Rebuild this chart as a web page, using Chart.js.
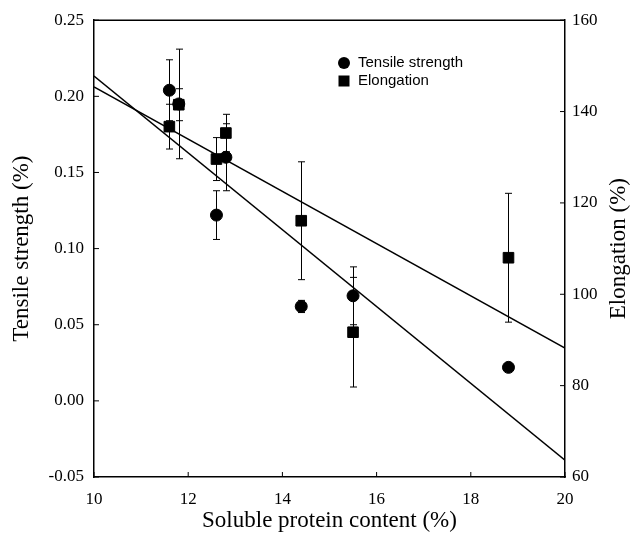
<!DOCTYPE html>
<html>
<head>
<meta charset="utf-8">
<script src="https://cdn.jsdelivr.net/npm/chart.js@4.4.1/dist/chart.umd.min.js"></script>
<style>
  html, body { margin: 0; padding: 0; background: #fff; }
  #wrap { width: 633px; height: 546px; position: relative; }
</style>
</head>
<body>
<div id="wrap"><canvas id="myChart"></canvas></div>
<script>
// values
const protein = [11.6, 11.8, 12.6, 12.8, 14.4, 15.5, 18.8];
const tensile = [0.204, 0.195, 0.122, 0.160, 0.062, 0.069, 0.022];
const tensileErr = [0.020, 0.036, 0.016, 0.022, 0.004, 0.019, 0];
const elongation = [136.7, 141.5, 129.6, 135.3, 116.1, 91.7, 108.0];
const elongationErr = [4.9, 3.5, 4.7, 4.1, 12.9, 12.0, 14.1];

// regression lines (end points at x = 10 and x = 20)
const fitX = [10, 20];
const tensileFit = [0.2133, -0.0389];
const elongationFit = [145.4, 88.2];

const seriesNames = ['Tensile strength', 'Elongation'];
const xTitle = 'Soluble protein content (%)';
const yTitle = 'Tensile strength (%)';
const y2Title = 'Elongation (%)';

const serif = '"Liberation Serif", "Times New Roman", serif';
const sans = '"Liberation Sans", Arial, sans-serif';

function pts(xs, ys) {
    return xs.map((x, i) => ({ x: x, y: ys[i] }));
}

// error bars, inside ticks, top frame, axis titles and legend
const extras = {
    id: 'extras',
    beforeDatasetsDraw(chart) {
        const ctx = chart.ctx;
        const x = chart.scales.x;
        ctx.save();
        ctx.strokeStyle = '#000';
        ctx.lineWidth = 1;
        chart.data.datasets.forEach((ds) => {
            if (!ds.errors) return;
            const sc = chart.scales[ds.yAxisID];
            ds.data.forEach((p, i) => {
                const e = ds.errors[i];
                if (!e) return;
                const px = Math.round(x.getPixelForValue(p.x)) + 0.5;
                const top = sc.getPixelForValue(p.y + e);
                const bot = sc.getPixelForValue(p.y - e);
                ctx.beginPath();
                ctx.moveTo(px, top); ctx.lineTo(px, bot);
                ctx.moveTo(px - 3.5, top); ctx.lineTo(px + 3.5, top);
                ctx.moveTo(px - 3.5, bot); ctx.lineTo(px + 3.5, bot);
                ctx.stroke();
            });
        });
        ctx.restore();
    },
    afterDraw(chart) {
        const ctx = chart.ctx;
        const a = chart.chartArea;
        const { x, y, y2 } = chart.scales;
        ctx.save();
        ctx.strokeStyle = '#000';
        ctx.lineWidth = 1.5;
        ctx.beginPath();
        ctx.moveTo(a.left, a.top); ctx.lineTo(a.right, a.top);
        ctx.stroke();
        ctx.lineWidth = 1;
        ctx.beginPath();
        x.ticks.forEach(t => {
            const p = x.getPixelForValue(t.value);
            ctx.moveTo(p, a.bottom); ctx.lineTo(p, a.bottom - 5);
        });
        y.ticks.forEach(t => {
            const p = y.getPixelForValue(t.value);
            ctx.moveTo(a.left, p); ctx.lineTo(a.left + 5, p);
        });
        y2.ticks.forEach(t => {
            const p = y2.getPixelForValue(t.value);
            ctx.moveTo(a.right, p); ctx.lineTo(a.right - 5, p);
        });
        ctx.stroke();

        // axis titles
        ctx.fillStyle = '#000';
        ctx.font = '23px ' + serif;
        ctx.textAlign = 'center';
        ctx.textBaseline = 'middle';
        ctx.fillText(xTitle, (a.left + a.right) / 2, 521);
        ctx.save();
        ctx.translate(22, (a.top + a.bottom) / 2);
        ctx.rotate(-Math.PI / 2);
        ctx.fillText(yTitle, 0, 0);
        ctx.restore();
        ctx.save();
        ctx.translate(619, (a.top + a.bottom) / 2);
        ctx.rotate(-Math.PI / 2);
        ctx.fillText(y2Title, 0, 0);
        ctx.restore();

        // legend
        const lx = 344, ly = [63, 81];
        ctx.font = '15px ' + sans;
        ctx.textAlign = 'left';
        ctx.beginPath();
        ctx.arc(lx, ly[0], 6, 0, Math.PI * 2);
        ctx.fill();
        ctx.fillRect(lx - 5.5, ly[1] - 5.5, 11, 11);
        ctx.fillText(seriesNames[0], lx + 14, ly[0]);
        ctx.fillText(seriesNames[1], lx + 14, ly[1]);
        ctx.restore();
    }
};

const ctx = document.getElementById('myChart').getContext('2d');
const myChart = new Chart(ctx, {
    type: 'scatter',
    data: {
        datasets: [
            {
                label: seriesNames[0] + ' fit',
                type: 'line',
                data: pts(fitX, tensileFit),
                yAxisID: 'y',
                borderColor: '#000',
                borderWidth: 1.5,
                pointRadius: 0,
                fill: false
            },
            {
                label: seriesNames[1] + ' fit',
                type: 'line',
                data: pts(fitX, elongationFit),
                yAxisID: 'y2',
                borderColor: '#000',
                borderWidth: 1.5,
                pointRadius: 0,
                fill: false
            },
            {
                label: seriesNames[1],
                data: pts(protein, elongation),
                errors: elongationErr,
                yAxisID: 'y2',
                pointStyle: 'rect',
                pointRadius: 7.5,
                backgroundColor: '#000',
                borderColor: '#000'
            },
            {
                label: seriesNames[0],
                data: pts(protein, tensile),
                errors: tensileErr,
                yAxisID: 'y',
                pointStyle: 'circle',
                pointRadius: 6,
                backgroundColor: '#000',
                borderColor: '#000'
            }
        ]
    },
    options: {
        responsive: true,
        maintainAspectRatio: false,
        animation: false,
        layout: { padding: { top: 19, left: 0, right: 0, bottom: 0 } },
        plugins: {
            legend: { display: false },
            tooltip: { enabled: false }
        },
        scales: {
            x: {
                type: 'linear',
                position: 'bottom',
                min: 10,
                max: 20,
                ticks: { stepSize: 2, color: '#000', padding: 12, font: { family: serif, size: 17 } },
                grid: { drawOnChartArea: false, drawTicks: false },
                border: { color: '#000', width: 1.5 },
                afterFit: (s) => { s.height = 69; }
            },
            y: {
                position: 'left',
                min: -0.05,
                max: 0.25,
                ticks: {
                    stepSize: 0.05,
                    color: '#000',
                    padding: 10,
                    font: { family: serif, size: 17 },
                    callback: (v) => (Math.abs(v) < 1e-9 ? 0 : v).toFixed(2)
                },
                grid: { drawOnChartArea: false, drawTicks: false },
                border: { color: '#000', width: 1.5 },
                afterFit: (s) => { s.width = 94; }
            },
            y2: {
                position: 'right',
                min: 60,
                max: 160,
                ticks: { stepSize: 20, color: '#000', padding: 7, font: { family: serif, size: 17 } },
                grid: { drawOnChartArea: false, drawTicks: false },
                border: { color: '#000', width: 1.5 },
                afterFit: (s) => { s.width = 68; }
            }
        }
    },
    plugins: [extras]
});
</script>
</body>
</html>
